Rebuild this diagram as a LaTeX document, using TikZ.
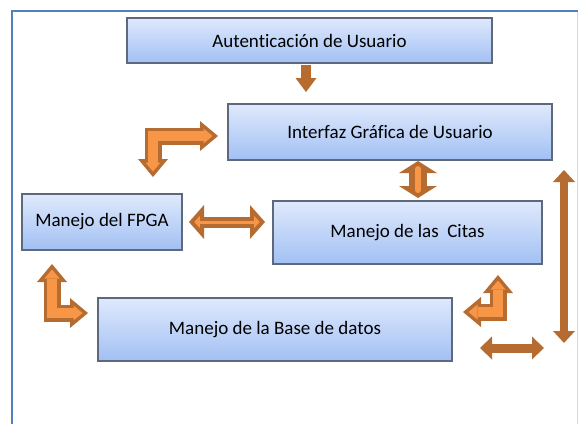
\documentclass[tikz,border=0pt]{standalone}
\usepackage{fontspec}
\setmainfont{Carlito}[Ligatures=NoCommon]
\usetikzlibrary{arrows.meta}

\definecolor{marcoazul}{RGB}{79,129,189}
\definecolor{marcoclaro}{RGB}{205,218,238}
\definecolor{cajaarriba}{RGB}{223,233,252}
\definecolor{cajaabajo}{RGB}{162,192,244}
\definecolor{cajaborde}{RGB}{95,105,125}
\definecolor{cafe}{RGB}{182,108,49}
\definecolor{naranja}{RGB}{247,150,70}

\tikzset{
  modulo/.style={rectangle, draw=cajaborde, line width=1.2pt, top color=cajaarriba,
    bottom color=cajaabajo, inner sep=0pt, font=\fontsize{19}{21}\selectfont},
  codoout/.style={draw=cafe, line width=17pt,
    {Triangle[width=30pt,length=18pt,line width=0pt 0]}-{Triangle[width=30pt,length=18pt,line width=0pt 0]}},
  codoin/.style={draw=naranja, line width=10pt, shorten <=5.5pt, shorten >=5.5pt,
    {Triangle[width=15pt,length=9pt,line width=0pt 0]}-{Triangle[width=15pt,length=9pt,line width=0pt 0]}},
}

\begin{document}
\begin{tikzpicture}[x=1pt,y=-1pt]

    \useasboundingbox (0,0) rectangle (579,424);

    % marco
    \draw[marcoclaro, line width=1pt] (577.5,11) -- (577.5,424);
    \draw[marcoazul, line width=2pt] (12,424) -- (12,11) -- (578,11);

    % modulos
    \node[modulo, minimum width=365pt, minimum height=45pt] (auth) at (309.5,40.5) {Autenticación de Usuario};
    \node[modulo, minimum width=324pt, minimum height=56pt] (gui) at (390,132) {Interfaz Gráfica de Usuario};
    \node[modulo, minimum width=160pt, minimum height=56pt] (fpga) at (102,222) {Manejo del FPGA};
    \node[modulo, minimum width=269pt, minimum height=63pt] (citas) at (407.5,232.5) {Manejo de las~ Citas};
    \node[modulo, minimum width=354pt, minimum height=63pt] (bd) at (275,329.5) {Manejo de la Base de datos};

    % puntas de las flechas
    \coordinate (d1) at (306,65);
    \coordinate (d2) at (306,92);
    \coordinate (c1) at (153,177);
    \coordinate (c2) at (218,136);
    \coordinate (l1) at (52,264);
    \coordinate (l2) at (88,313);
    \coordinate (r1) at (498,275);
    \coordinate (r2) at (463,312);
    \coordinate (h1) at (189,222);
    \coordinate (h2) at (265,222);
    \coordinate (v1) at (418,161);
    \coordinate (v2) at (418,198);
    \coordinate (e1) at (564,170);
    \coordinate (e2) at (564,343);
    \coordinate (b1) at (480,348);
    \coordinate (b2) at (544,348);

    % auth -> gui
    \draw[cafe, line width=10pt, -{Triangle[width=21pt,length=14pt,line width=0pt 0]}] (d1) -- (d2);

    % flechas en codo
    \draw[codoout] (c1) |- (c2);
    \draw[codoin] (c1) |- (c2);
    \draw[codoout] (l1) |- (l2);
    \draw[codoin] (l1) |- (l2);
    \draw[codoout] (r1) |- (r2);
    \draw[codoin] (r1) |- (r2);

    % fpga <-> citas
    \draw[cafe, line width=11pt,
      {Triangle[width=34pt,length=15pt,line width=0pt 0]}-{Triangle[width=34pt,length=15pt,line width=0pt 0]}] (h1) -- (h2);
    \draw[naranja, line width=3pt, shorten <=5.3pt, shorten >=5.3pt,
      {Triangle[width=12pt,length=5.5pt,line width=0pt 0]}-{Triangle[width=12pt,length=5.5pt,line width=0pt 0]}] (h1) -- (h2);

    % gui <-> citas
    \draw[cafe, line width=18pt,
      {Triangle[width=38pt,length=12pt,line width=0pt 0]}-{Triangle[width=38pt,length=12pt,line width=0pt 0]}] (v1) -- (v2);
    \draw[naranja, line width=6pt, line cap=round, shorten <=8pt, shorten >=8pt] (v1) -- (v2);

    % lado derecho
    \draw[cafe, line width=8pt,
      {Triangle[width=22pt,length=12pt,line width=0pt 0]}-{Triangle[width=22pt,length=12pt,line width=0pt 0]}] (e1) -- (e2);
    \draw[cafe, line width=9pt,
      {Triangle[width=23pt,length=12pt,line width=0pt 0]}-{Triangle[width=23pt,length=12pt,line width=0pt 0]}] (b1) -- (b2);

\end{tikzpicture}
\end{document}
